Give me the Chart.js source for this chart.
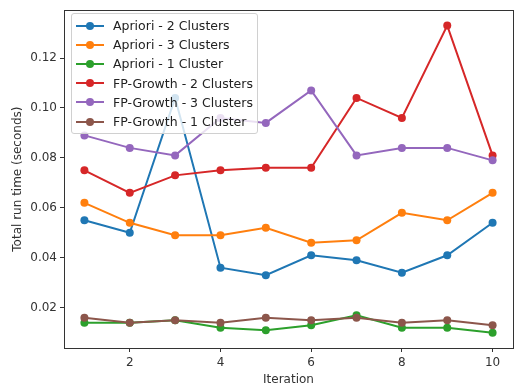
<!DOCTYPE html>
<html>
<head>
<meta charset="utf-8">
<script src="https://cdn.jsdelivr.net/npm/chart.js@4"></script>
<style>
  body { margin: 0; background: #fff; }
  #wrap { position: relative; width: 517px; height: 387px; }
  #legend {
    position: absolute; left: 71px; top: 13px;
    padding: 2px 4px 2px 4px;
    border: 1px solid #d0d0d0; border-radius: 3px;
    background: rgba(255,255,255,0.8);
    font-family: "DejaVu Sans", sans-serif; font-size: 12.5px; color: #222;
  }
  .row { height: 19.2px; line-height: 19.2px; display: flex; align-items: center; white-space: nowrap; }
  .mark { position: relative; width: 28px; height: 19px; margin-right: 9px; }
  .mark i { position: absolute; left: 0; right: 0; top: 8.5px; height: 2px; }
  .mark b { position: absolute; left: 10px; top: 5.5px; width: 8px; height: 8px; border-radius: 50%; }
</style>
</head>
<body>
<div id="wrap">
  <canvas id="grafico" width="517" height="387"></canvas>
  <div id="legend"></div>
</div>
<script>
const iteracoes = [1, 2, 3, 4, 5, 6, 7, 8, 9, 10];

const nomes = [
    'Apriori - 2 Clusters',
    'Apriori - 3 Clusters',
    'Apriori - 1 Cluster',
    'FP-Growth - 2 Clusters',
    'FP-Growth - 3 Clusters',
    'FP-Growth - 1 Cluster'
];

const apriori2 = [0.055, 0.050, 0.104, 0.036, 0.033, 0.041, 0.039, 0.034, 0.041, 0.054];
const apriori3 = [0.062, 0.054, 0.049, 0.049, 0.052, 0.046, 0.047, 0.058, 0.055, 0.066];
const apriori1 = [0.014, 0.014, 0.015, 0.012, 0.011, 0.013, 0.017, 0.012, 0.012, 0.010];
const fp2 = [0.075, 0.066, 0.073, 0.075, 0.076, 0.076, 0.104, 0.096, 0.133, 0.081];
const fp3 = [0.089, 0.084, 0.081, 0.096, 0.094, 0.107, 0.081, 0.084, 0.084, 0.079];
const fp1 = [0.016, 0.014, 0.015, 0.014, 0.016, 0.015, 0.016, 0.014, 0.015, 0.013];

const xTicks = [2, 4, 6, 8, 10];
const yTicks = [0.02, 0.04, 0.06, 0.08, 0.10, 0.12];

const series = [apriori2, apriori3, apriori1, fp2, fp3, fp1];
const cores = ['#1f77b4', '#ff7f0e', '#2ca02c', '#d62728', '#9467bd', '#8c564b'];

const fonte = { family: 'DejaVu Sans', size: 12 };

// frame around the plot, like matplotlib spines
const moldura = {
    id: 'moldura',
    afterDraw(chart) {
        const a = chart.chartArea;
        const ctx = chart.ctx;
        ctx.save();
        ctx.strokeStyle = '#333';
        ctx.lineWidth = 1;
        ctx.strokeRect(Math.round(a.left) + 0.5, Math.round(a.top) + 0.5,
            Math.round(a.right - a.left), Math.round(a.bottom - a.top));
        ctx.restore();
    }
};

const datasets = series.map((s, i) => ({
    label: nomes[i],
    data: s.map((v, j) => ({ x: iteracoes[j], y: v })),
    borderColor: cores[i],
    backgroundColor: cores[i],
    borderWidth: 2,
    pointRadius: 4,
    pointBorderWidth: 0,
    tension: 0,
    order: series.length - i
}));

new Chart(document.getElementById('grafico'), {
    type: 'line',
    data: { datasets: datasets },
    options: {
        responsive: false,
        animation: false,
        layout: { padding: { left: 0, top: 6, right: 2, bottom: 0 } },
        plugins: { legend: { display: false }, tooltip: { enabled: false } },
        scales: {
            x: {
                type: 'linear',
                min: 0.55, max: 10.45,
                afterBuildTicks: ax => { ax.ticks = xTicks.map(v => ({ value: v })); },
                afterFit: ax => { ax.height = 39; },
                grid: { drawOnChartArea: false, tickLength: 4, color: '#333' },
                border: { display: false },
                ticks: { font: fonte, color: '#333', padding: 4, maxRotation: 0 },
                title: { display: true, text: 'Iteration', font: fonte, color: '#333', padding: { top: 0, bottom: 0 } }
            },
            y: {
                min: 0.00385, max: 0.13915,
                afterBuildTicks: ax => { ax.ticks = yTicks.map(v => ({ value: v })); },
                afterFit: ax => { ax.width = 64; },
                grid: { drawOnChartArea: false, tickLength: 4, color: '#333' },
                border: { display: false },
                ticks: { font: fonte, color: '#333', padding: 3, callback: v => v.toFixed(2) },
                title: { display: true, text: 'Total run time (seconds)', font: fonte, color: '#333', padding: { top: 11, bottom: 0 } }
            }
        }
    },
    plugins: [moldura]
});

const legenda = document.getElementById('legend');
nomes.forEach((n, i) => {
    const row = document.createElement('div');
    row.className = 'row';
    row.innerHTML = '<span class="mark"><i style="background:' + cores[i] + '"></i><b style="background:' + cores[i] + '"></b></span><span>' + n + '</span>';
    legenda.appendChild(row);
});
</script>
</body>
</html>
